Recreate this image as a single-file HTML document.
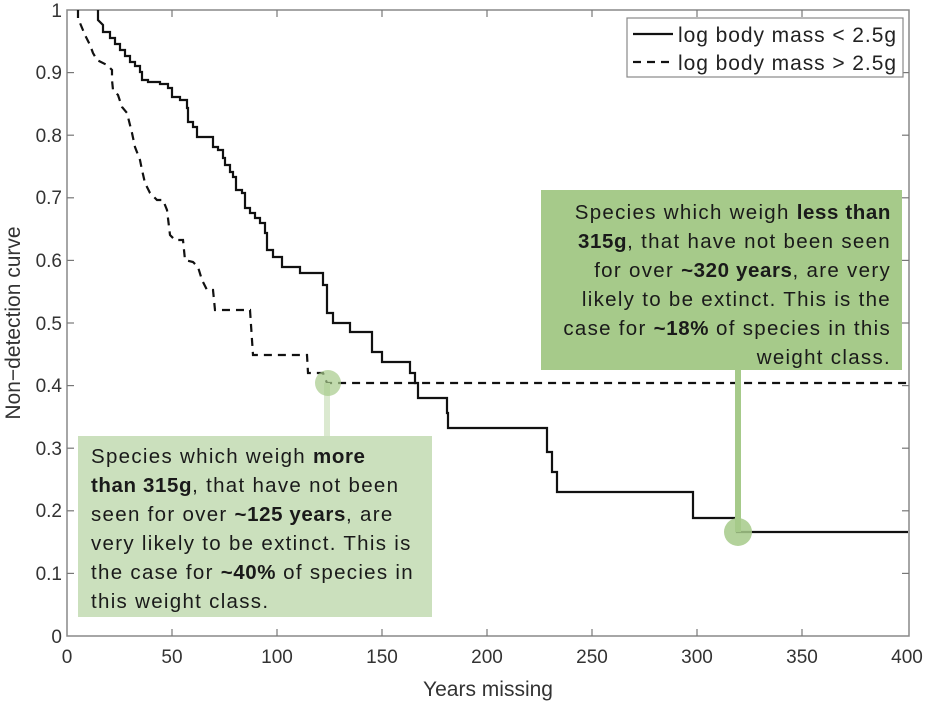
<!DOCTYPE html>
<html><head><meta charset="utf-8"><style>
html,body{margin:0;padding:0;background:#fff;width:929px;height:704px;overflow:hidden}
.box{position:absolute;font-family:"Liberation Sans","DejaVu Sans",sans-serif;font-size:20.5px;line-height:29px;color:#1a1a1a;white-space:nowrap;letter-spacing:1.3px}
b{font-weight:bold;letter-spacing:0.6px}
</style></head><body>
<svg width="929" height="704" style="position:absolute;left:0;top:0" font-family="Liberation Sans, Arial, sans-serif">
<rect x="67" y="10" width="842" height="626" fill="none" stroke="#888" stroke-width="1.5"/>
<g stroke="#777" stroke-width="1.2">
<line x1="172" y1="636" x2="172" y2="629"/><line x1="277" y1="636" x2="277" y2="629"/><line x1="382" y1="636" x2="382" y2="629"/><line x1="487" y1="636" x2="487" y2="629"/><line x1="592" y1="636" x2="592" y2="629"/><line x1="697" y1="636" x2="697" y2="629"/><line x1="802" y1="636" x2="802" y2="629"/>
<line x1="172" y1="10" x2="172" y2="17"/><line x1="277" y1="10" x2="277" y2="17"/><line x1="382" y1="10" x2="382" y2="17"/><line x1="487" y1="10" x2="487" y2="17"/><line x1="592" y1="10" x2="592" y2="17"/><line x1="697" y1="10" x2="697" y2="17"/><line x1="802" y1="10" x2="802" y2="17"/>
<line x1="67" y1="573.4" x2="74" y2="573.4"/><line x1="67" y1="510.8" x2="74" y2="510.8"/><line x1="67" y1="448.2" x2="74" y2="448.2"/><line x1="67" y1="385.6" x2="74" y2="385.6"/><line x1="67" y1="323" x2="74" y2="323"/><line x1="67" y1="260.4" x2="74" y2="260.4"/><line x1="67" y1="197.8" x2="74" y2="197.8"/><line x1="67" y1="135.2" x2="74" y2="135.2"/><line x1="67" y1="72.6" x2="74" y2="72.6"/>
<line x1="909" y1="573.4" x2="902" y2="573.4"/><line x1="909" y1="510.8" x2="902" y2="510.8"/><line x1="909" y1="448.2" x2="902" y2="448.2"/><line x1="909" y1="385.6" x2="902" y2="385.6"/><line x1="909" y1="323" x2="902" y2="323"/><line x1="909" y1="260.4" x2="902" y2="260.4"/><line x1="909" y1="197.8" x2="902" y2="197.8"/><line x1="909" y1="135.2" x2="902" y2="135.2"/><line x1="909" y1="72.6" x2="902" y2="72.6"/>
</g>
<g font-size="19" fill="#333" text-anchor="middle">
<text x="67" y="663">0</text><text x="172" y="663">50</text><text x="277" y="663">100</text><text x="382" y="663">150</text><text x="487" y="663">200</text><text x="592" y="663">250</text><text x="697" y="663">300</text><text x="802" y="663">350</text><text x="907" y="663">400</text>
</g>
<g font-size="19" fill="#333" text-anchor="end">
<text x="62" y="643">0</text><text x="62" y="580">0.1</text><text x="62" y="517">0.2</text><text x="62" y="455">0.3</text><text x="62" y="392">0.4</text><text x="62" y="330">0.5</text><text x="62" y="267">0.6</text><text x="62" y="204">0.7</text><text x="62" y="142">0.8</text><text x="62" y="79">0.9</text><text x="62" y="17">1</text>
</g>
<text x="488" y="696" font-size="21" fill="#333" text-anchor="middle">Years missing</text>
<text transform="translate(20,323) rotate(-90)" font-size="21" fill="#333" text-anchor="middle">Non−detection curve</text>
<polyline fill="none" stroke="#111" stroke-width="2.2" points="98,10 98,20 103,25 103,32 110,32 110,38 115,38 115,44 120,44 120,50 125,50 125,56 130,56 130,62 135,62 135,66 140,66 140,72 142,72 142,80 148,80 148,82 160,82 160,84 168,84 168,88 172,88 172,97 180,97 180,100 187,100 187,108 188,108 188,122 193,122 193,127 197,127 197,137 213,137 213,147 218,147 218,150 223,150 223,158 225,158 225,165 230,165 230,172 233,172 233,177 236,177 236,190 242,190 242,193 245,193 245,208 250,208 250,213 255,213 255,218 260,218 260,223 265,223 265,233 267,233 267,250 273,250 273,257 282,257 282,267 300,267 300,273 323,273 323,285 327,285 327,313 333,313 333,323 350,323 350,332 372,332 372,352 382,352 382,362 410,362 410,373 415,373 415,383 418,383 418,398 447,398 447,413 448,413 448,428 547,428 547,452 552,452 552,472 557,472 557,492 693,492 693,518 737,518 737,532 908,532"/>
<polyline fill="none" stroke="#111" stroke-width="2.2" stroke-dasharray="8,6" points="78,10 78,20 80,23 85,35 90,45 93,53 97,60 107,65 112,70 112,80 113,90 118,95 122,107 127,113 130,125 132,133 135,147 140,160 142,170 145,183 150,193 157,200 163,200 167,210 170,235 175,240 183,240 185,260 193,262 198,267 202,280 207,290 213,290 215,310 250,310 253,355 307,355 308,373 323,373 327,383 908,383"/>
<rect x="627" y="18" width="276" height="59" fill="#fff" stroke="#888" stroke-width="1.2"/>
<line x1="633" y1="34" x2="673" y2="34" stroke="#111" stroke-width="2.2"/>
<line x1="633" y1="62" x2="673" y2="62" stroke="#111" stroke-width="2.2" stroke-dasharray="8,6"/>
<text x="678" y="42" font-size="21" fill="#222" textLength="218">log body mass &lt; 2.5g</text>
<text x="678" y="70" font-size="21" fill="#222" textLength="218">log body mass &gt; 2.5g</text>
<line x1="327" y1="383" x2="327" y2="436" stroke="#dbe9d0" stroke-width="6"/>
<circle cx="328" cy="383" r="13" fill="#a6ca8a" opacity="0.7"/>
<line x1="738" y1="370" x2="738" y2="532" stroke="#a6ca8a" stroke-width="6"/>
<circle cx="738" cy="532" r="14" fill="#a6ca8a" opacity="0.85"/>
<rect x="78" y="436" width="354" height="181" fill="#cbe0bd"/>
<rect x="541" y="190" width="361" height="180" fill="#a6ca8a"/>
</svg>
<div class="box" style="left:91px;top:442px">Species which weigh <b>more</b><br><b>than 315g</b>, that have not been<br>seen for over <b>~125 years</b>, are<br>very likely to be extinct. This is<br>the case for <b>~40%</b> of species in<br>this weight class.</div>
<div class="box" style="right:38px;top:198px;text-align:right">Species which weigh <b>less than</b><br><b>315g</b>, that have not been seen<br>for over <b>~320 years</b>, are very<br>likely to be extinct. This is the<br>case for <b>~18%</b> of species in this<br>weight class.</div>
</body></html>
